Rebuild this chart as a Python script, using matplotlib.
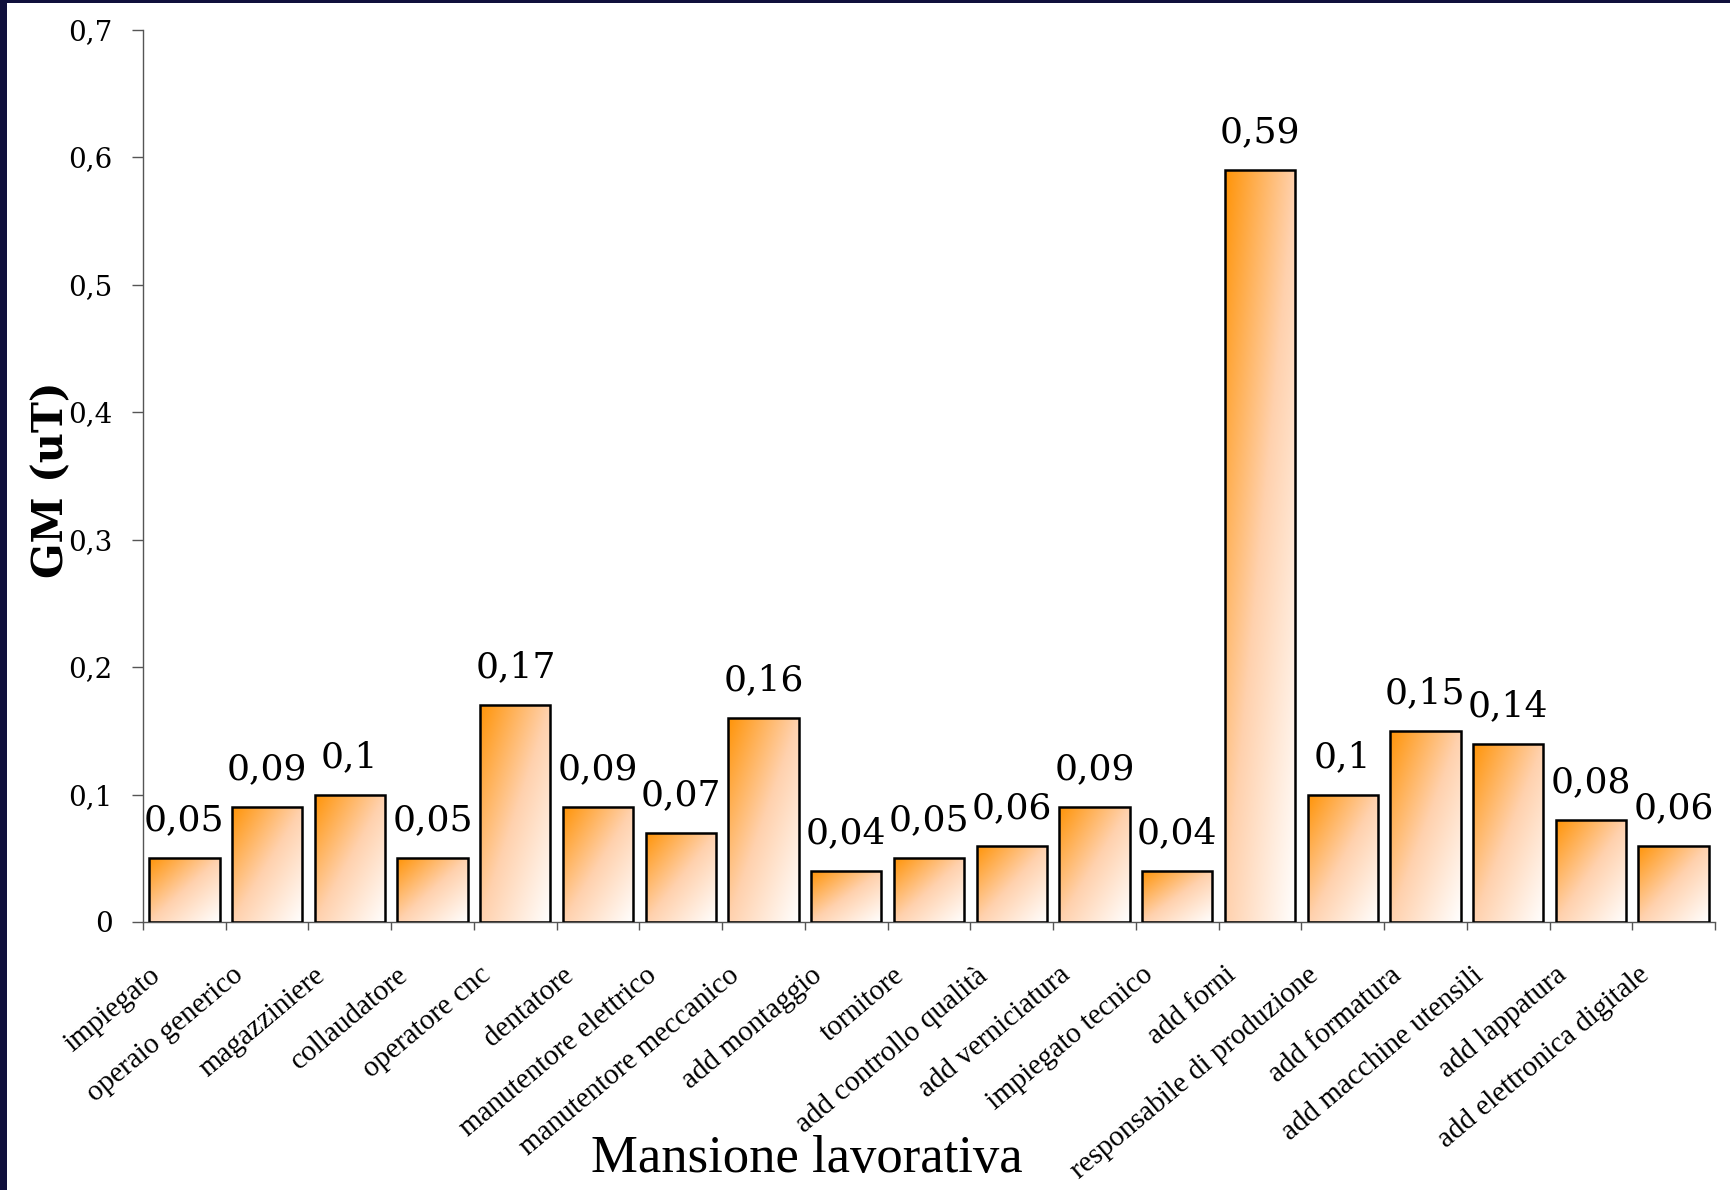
import numpy as np
import matplotlib
matplotlib.use("Agg")
import matplotlib.pyplot as plt
from matplotlib.colors import LinearSegmentedColormap
from matplotlib.patches import Rectangle
import matplotlib.transforms as mtransforms

categories = ["impiegato", "operaio generico", "magazziniere", "collaudatore",
              "operatore cnc", "dentatore", "manutentore elettrico",
              "manutentore meccanico", "add montaggio", "tornitore",
              "add controllo qualità", "add verniciatura", "impiegato tecnico",
              "add forni", "responsabile di produzione", "add formatura",
              "add macchine utensili", "add lappatura", "add elettronica digitale"]
values = [0.05, 0.09, 0.1, 0.05, 0.17, 0.09, 0.07, 0.16, 0.04, 0.05,
          0.06, 0.09, 0.04, 0.59, 0.1, 0.15, 0.14, 0.08, 0.06]
yticks = [0, 0.1, 0.2, 0.3, 0.4, 0.5, 0.6, 0.7]
ytick_labels = ["0", "0,1", "0,2", "0,3", "0,4", "0,5", "0,6", "0,7"]

W, H = 1731, 1190
fig = plt.figure(figsize=(W / 100, H / 100), dpi=100)
fig.patch.set_facecolor("white")

ax = fig.add_axes([143 / W, (H - 922) / H, (1715 - 143) / W, (922 - 29.5) / H])
ax.set_facecolor("white")

n = len(categories)
x = np.arange(n)
bars = ax.bar(x, values, width=0.85, facecolor="none", edgecolor="black",
              linewidth=1.8, zorder=3)

cmap = LinearSegmentedColormap.from_list(
    "grad", [(0.0, (1.0, 0.58, 0.03)), (0.5, (1.0, 0.82, 0.68)), (1.0, (1.0, 1.0, 1.0))])
g = np.linspace(0, 1, 200)
U, V = np.meshgrid(g, g)  # row 0 = top
T = (U + V) / 2.0
for b in bars:
    x0, y0 = b.get_x(), b.get_y()
    w, h = b.get_width(), b.get_height()
    im = ax.imshow(T, cmap=cmap, vmin=0, vmax=1, extent=[x0, x0 + w, y0, y0 + h],
                   origin="upper", aspect="auto", interpolation="bilinear", zorder=2)
    im.set_clip_path(b)

ax.set_xlim(-0.5, n - 0.5)
ax.set_ylim(0, 0.7)

num_font = "DejaVu Serif"
txt_font = "Liberation Serif"

for xi, v in zip(x, values):
    lab = ("%g" % v).replace(".", ",")
    ax.annotate(lab, (xi, v), xytext=(0, 20), textcoords="offset points",
                ha="center", va="baseline", fontsize=26, family=num_font, zorder=4)

ax.set_yticks(yticks)
ax.set_yticklabels(ytick_labels, family=num_font, fontsize=20)
ax.tick_params(axis="y", length=8, width=1, color="#555555", pad=14)

ax.set_xticks(np.arange(n + 1) - 0.5)
ax.set_xticklabels([])
ax.tick_params(axis="x", length=6, width=1, color="#555555")

for s in ["top", "right"]:
    ax.spines[s].set_visible(False)
for s in ["left", "bottom"]:
    ax.spines[s].set_color("#555555")
    ax.spines[s].set_linewidth(1)

offset = mtransforms.ScaledTranslation(-36 / 100, -40 / 100, fig.dpi_scale_trans)
for xi, lab in zip(x, categories):
    ax.text(xi, 0, lab, rotation=40, rotation_mode="anchor", ha="right", va="top",
            fontsize=21, family=txt_font,
            transform=ax.transData + offset, clip_on=False)

fig.text(51 / W, 1 - 480 / H, "GM (uT)", rotation=90, ha="center", va="center",
         fontsize=30, fontweight="bold", family=num_font)
fig.text(807 / W, 1 - 1172 / H, "Mansione lavorativa", ha="center", va="baseline",
         fontsize=38, family=txt_font)

# dark frame edges
fig.patches.append(Rectangle((0, 0), 7 / W, 1, transform=fig.transFigure,
                             facecolor="#10103c", edgecolor="none", zorder=10))
fig.patches.append(Rectangle((0, 1 - 3 / H), 1, 3 / H, transform=fig.transFigure,
                             facecolor="#10103c", edgecolor="none", zorder=10))

fig.savefig("out.png", dpi=100)
